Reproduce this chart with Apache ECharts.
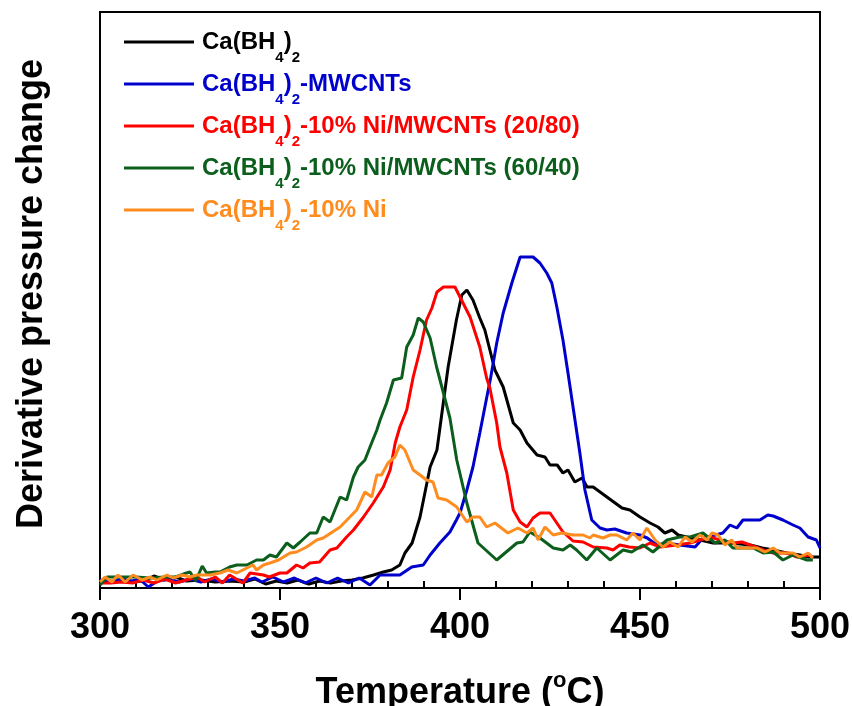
<!DOCTYPE html>
<html><head><meta charset="utf-8">
<script src="https://cdn.jsdelivr.net/npm/echarts@6/dist/echarts.min.js"></script>
<style>html,body{margin:0;padding:0;background:#fff}#c{width:852px;height:706px}</style>
</head><body><div id="c"></div>
<script>
// ---- data (temperature in °C, derivative pressure change in arbitrary units) ----
const seriesNames = [
  'Ca(BH4)2',
  'Ca(BH4)2-MWCNTs',
  'Ca(BH4)2-10% Ni/MWCNTs (20/80)',
  'Ca(BH4)2-10% Ni/MWCNTs (60/40)',
  'Ca(BH4)2-10% Ni'
];
const seriesColors = ['#000000', '#0000cc', '#ff0000', '#0b5e1c', '#ff8c1e'];
const legendTails = ['', '-MWCNTs', '-10% Ni/MWCNTs (20/80)', '-10% Ni/MWCNTs (60/40)', '-10% Ni'];

const xTicks = [300, 350, 400, 450, 500];
const minorTicks = [310,320,330,340,360,370,380,390,410,420,430,440,460,470,480,490];

const caBH4 = [[300,6],[304,7],[308,6],[312,7],[315,12],[318,8],[321,11],[324,7],[328,8],[332,6],[336,7],[340,6],[343,9],[346,4],[349,7],[352,5],[355,8],[358,4],[361,7],[364,5],[367,7],[370,8],[373,10],[376,13],[378.7,16],[381,18],[383.3,23],[384.7,35],[386.7,45],[388.9,71],[391.7,121],[393.6,138],[396.7,221],[399,268],[400.5,293],[401.9,298],[403.6,288],[405.5,270],[406.9,258],[409.7,218],[412,201],[414.8,165],[416.7,158],[418.6,145],[421.4,133],[423.6,131],[425,123],[427,123],[428.6,115],[430,118],[431.9,106],[433.9,110],[435.3,101],[437,101],[440.8,91],[445,80],[447.2,78],[450,71],[452.8,65],[455,61],[456.9,55],[458.9,58],[460.6,53],[463,51],[466.7,48],[470.3,45],[475,45],[480.6,43],[484,40],[487,38],[490.8,35],[494.4,33],[497,31],[500,31]];

const caMWCNT = [[300,8],[303,6],[306,9],[309,7],[311,9],[313.4,1],[316,7],[319,9],[322,6],[325,9],[328,6],[331,9],[334,6],[337,9],[340,7],[343,10],[345,6],[348,11],[351,6],[354,10],[357,5],[360,10],[363,5],[366,10],[369,5],[372,10],[375,3],[377.8,13],[383.3,13],[386.6,21],[389.8,23],[391.7,33],[394.4,45],[397.2,56],[399,68],[400,75],[401.9,98],[403.6,121],[405.5,155],[407.4,190],[408.5,210],[410.2,245],[412,275],[414.4,305],[416.7,331],[420.3,331],[422.2,325],[424.1,315],[425.5,305],[426.9,281],[428.6,248],[430,215],[431.4,181],[433.3,135],[434.7,98],[436.6,68],[438.9,60],[440.8,58],[443,59],[446.3,55],[450,53],[452,50],[454.7,43],[457.5,45],[461,43],[465.3,41],[467.5,50],[471,53],[473,55],[475,63],[476.9,60],[478.6,68],[483.3,68],[485.5,73],[487,72],[489.7,68],[492.5,63],[494.4,60],[496.7,51],[499,48],[500,40]];

const caNi2080 = [[300,5],[303,5],[306,6],[309,5],[312,8],[315,5],[318,9],[321,5],[324,8],[327,11],[329,6],[332,11],[334,5],[336,13],[339.7,5],[341.7,15],[345.4,13],[347,11],[350,15],[351.9,15],[354.6,23],[356.4,20],[358.3,25],[361,26],[363.9,38],[365.8,40],[368.5,51],[370.4,58],[373.2,71],[375.9,85],[378.7,101],[380.6,118],[382,145],[383.3,161],[385.2,178],[387,211],[388.9,238],[390.7,268],[392.2,280],[393.6,296],[395.4,301],[398.6,301],[400,291],[402.8,271],[405.5,241],[407.4,210],[408.3,200],[410.2,165],[411.1,141],[413,115],[414.8,78],[416.7,66],[418.6,61],[420.3,70],[422.2,75],[425,75],[428.6,56],[431.4,47],[434.2,46],[437,41],[440.8,40],[442.5,38],[444.4,43],[447,41],[450,40],[452.8,45],[455.6,41],[460.3,43],[463.9,45],[466.7,48],[469.4,51],[472.2,48],[475.8,45],[478.3,46],[480.6,43],[484.2,38],[487,35],[490.8,35],[493.6,31],[497.2,33],[498,30]];

const caNi6040 = [[300,3],[302,11],[306,11],[310,11],[314,10],[318,11],[321,11],[324,15],[325,16],[326.6,7],[328.4,22],[329.6,15],[332,16],[333.3,16],[336,21],[338,23],[340.8,23],[343.5,28],[345.4,28],[347.2,33],[349,31],[351.9,45],[353.7,40],[355.6,46],[358.3,55],[360.2,55],[362,71],[363.9,66],[366.7,91],[368.5,88],[370.4,111],[371.7,121],[373.6,128],[375,141],[376.9,158],[377.8,168],[379.6,185],[381.5,208],[383.8,210],[385.2,241],[387,253],[388.4,270],[389.8,266],[391.7,250],[393.5,221],[395.4,195],[397.2,170],[399.1,128],[401.9,85],[405,45],[410.2,28],[415.8,45],[417.5,46],[419.4,56],[422.2,50],[425.9,40],[428.6,38],[430.6,43],[432.4,38],[435.2,28],[438,40],[441.7,28],[445.3,38],[447.7,36],[450.8,43],[453.6,36],[457.5,48],[461,51],[463.9,51],[467.5,55],[470.8,45],[473.6,48],[475.8,40],[481.4,40],[484.2,35],[487,36],[489.7,28],[492.5,33],[496.4,28],[498,28]];

const caNi = [[300,6],[301.4,11],[303.3,6],[305,13],[307,6],[309.2,13],[311.7,8],[313.9,11],[315.8,8],[318.6,13],[320.3,10],[322.8,13],[325,11],[326.9,13],[330.6,13],[333.3,15],[335.6,18],[338,15],[340.8,20],[342.5,23],[343.5,18],[345.4,23],[347.2,25],[349.6,28],[352.8,35],[354.6,36],[357.4,41],[360.2,48],[362,50],[366.7,61],[369.4,71],[371.3,78],[373.6,96],[375.5,91],[376.9,113],[378.2,113],[380,125],[381.9,131],[383.3,143],[384.7,138],[387,118],[388.9,113],[390.7,108],[392.5,106],[393.9,90],[396.3,88],[399.1,81],[401.9,66],[403.6,71],[405.5,71],[407.4,61],[409.7,65],[413.3,55],[416.1,60],[418.6,55],[420.3,60],[421.7,48],[423.6,61],[425.9,53],[428.3,55],[431.4,53],[434.2,53],[436.1,50],[437,53],[439.7,50],[441.7,53],[443.6,53],[446.3,48],[448,55],[450,48],[451.9,60],[454.2,48],[456.4,41],[458.3,46],[460.6,41],[462.5,51],[464.4,46],[466.7,53],[468.6,48],[470,55],[471.7,53],[473.6,43],[475.5,48],[476.9,40],[479.7,40],[482.5,40],[484.7,36],[487,40],[488.9,35],[492.5,35],[494.4,31],[496.7,35],[498,30]];

const allData = [caBH4, caMWCNT, caNi2080, caNi6040, caNi];

// ---- chart ----
const FONT = '"Liberation Sans", Arial, Helvetica, sans-serif';
const chart = echarts.init(document.getElementById('c'), null, {renderer: 'canvas'});

function legendRich(color) {
  return {
    f: {fontFamily: FONT, fontSize: 24, fontWeight: 'bold', color: color, padding: [0, 0, 0, 3]},
    m: {fontFamily: FONT, fontSize: 24, fontWeight: 'bold', color: color},
    s: {fontFamily: FONT, fontSize: 15, fontWeight: 'bold', color: color, padding: [32, 0, 0, 0]}
  };
}
const legendRows = [42, 84, 126, 168, 210];
const legends = seriesNames.map((n, i) => ({
  data: [n],
  left: 119,
  top: legendRows[i] - 17,
  icon: 'rect',
  itemWidth: 70,
  itemHeight: 3,
  selectedMode: false,
  formatter: () => '{f|Ca(BH}{s|4}{m|)}{s|2}' + (legendTails[i] ? '{m|' + legendTails[i] + '}' : ''),
  textStyle: {fontFamily: FONT, fontSize: 24, fontWeight: 'bold', color: seriesColors[i], rich: legendRich(seriesColors[i])}
}));

const option = {
  animation: false,
  backgroundColor: '#ffffff',
  grid: {left: 100, right: 32, top: 12, bottom: 118, containLabel: false, outerBoundsMode: 'none',
         show: true, borderColor: '#000', borderWidth: 2, backgroundColor: 'transparent'},
  legend: legends,
  xAxis: [{
    type: 'value', min: 300, max: 500, interval: 50,
    axisLine: {show: true, onZero: false, lineStyle: {color: '#000', width: 2}},
    axisTick: {show: true, inside: false, length: 12, lineStyle: {color: '#000', width: 2}},
    axisLabel: {show: true, margin: 22, color: '#000', fontFamily: FONT, fontSize: 36, fontWeight: 'bold'},
    splitLine: {show: false},
    name: '{t|Temperature (}{o|o}{t|C)}',
    nameLocation: 'middle', nameGap: 82,
    nameTextStyle: {
      color: '#000',
      rich: {
        t: {fontFamily: FONT, fontSize: 36, fontWeight: 'bold', color: '#000'},
        o: {fontFamily: FONT, fontSize: 22, fontWeight: 'bold', color: '#000', padding: [0, 0, 24, 0]}
      }
    }
  }, {
    type: 'value', min: 300, max: 500, interval: 10, position: 'bottom',
    axisLine: {show: false, onZero: false},
    axisTick: {show: true, inside: true, length: 7, customValues: minorTicks, lineStyle: {color: '#000', width: 2}},
    axisLabel: {show: false},
    splitLine: {show: false}
  }],
  yAxis: {
    type: 'value', min: 0, max: 576,
    axisLine: {show: true, onZero: false, lineStyle: {color: '#000', width: 2}},
    axisTick: {show: false},
    axisLabel: {show: false},
    splitLine: {show: false},
    name: 'Derivative pressure change',
    nameLocation: 'middle', nameGap: 50,
    nameTextStyle: {color: '#000', fontFamily: FONT, fontSize: 36, fontWeight: 'bold', padding: [0, 0, 0, 12]}
  },
  series: seriesNames.map((n, i) => ({
    name: n, type: 'line', data: allData[i], xAxisIndex: 0,
    symbol: 'none', smooth: false,
    color: seriesColors[i],
    lineStyle: {color: seriesColors[i], width: 3},
    emphasis: {disabled: true}
  }))
};
chart.setOption(option);
</script>
</body></html>
